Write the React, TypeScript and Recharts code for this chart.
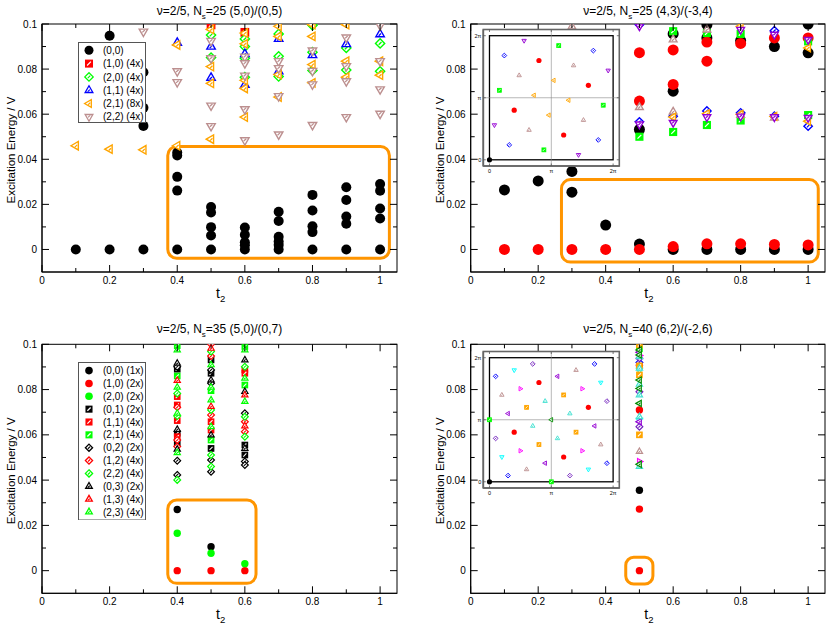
import React from 'react';
import { ScatterChart, Scatter, XAxis, YAxis, ReferenceArea, ReferenceLine, Legend, CartesianGrid, Label } from 'recharts';

type Pt = [number, number];
const FONT = "'Liberation Sans', Arial, Helvetica, sans-serif";

// ---------- axis ticks ----------
const T_TICKS = [0, 0.1, 0.2, 0.3, 0.4, 0.5, 0.6, 0.7, 0.8, 0.9, 1.0];
const E_TICKS = [0, 0.01, 0.02, 0.03, 0.04, 0.05, 0.06, 0.07, 0.08, 0.09, 0.1];
const K_TICKS = [0, 0.5, 1];
const K_LABELS = ['0', 'π', '2π'];

// ---------- colours ----------
const BLACK = '#000000', RED = '#ff0000', GREEN = '#00ff00', BLUE = '#0000ff', ORANGE = '#ffa500';
const BROWN = '#bc8f8f', VIOLET = '#9400d3', CYAN = '#00ffff', MAGENTA = '#ff00ff', INDIGO = '#7221bc';
const TURQ = '#40e0d0', GREEN4 = '#008b00', BOXC = '#ff9500';

// ---------- Panel A: Ns=25 (5,0)/(0,5) ----------
const a00: Pt[] = [[0.1,0],[0.2,0],[0.2,0.0948],[0.3,0],[0.3,0.0548],[0.3,0.0628],[0.3,0.0786],
  [0.4,0],[0.4,0.0261],[0.4,0.0322],[0.4,0.0417],[0.4,0.043],
  [0.5,0],[0.5,0.0062],[0.5,0.0099],[0.5,0.0164],[0.5,0.0188],
  [0.6,0],[0.6,0.0019],[0.6,0.0032],[0.6,0.0065],[0.6,0.0097],
  [0.7,0],[0.7,0.002],[0.7,0.0035],[0.7,0.0056],[0.7,0.0126],[0.7,0.0167],
  [0.8,0],[0.8,0.0077],[0.8,0.0103],[0.8,0.0173],[0.8,0.0242],
  [0.9,0],[0.9,0.0114],[0.9,0.0146],[0.9,0.0219],[0.9,0.0276],
  [1.0,0],[1.0,0.0137],[1.0,0.0182],[1.0,0.026],[1.0,0.029]];
const a10: Pt[] = [[0.5,0.0996],[0.6,0.0963]];
const a20: Pt[] = [[0.5,0.0951],[0.5,0.0851],[0.6,0.0934],[0.6,0.09],[0.6,0.0848],[0.6,0.0764],[0.7,0.0956],[0.7,0.0857],[0.7,0.0767],[0.8,0.0994],[0.8,0.0875],[0.8,0.0794],[0.9,0.0894],[0.9,0.0796],[1.0,0.0914],[1.0,0.079]];
const a11: Pt[] = [[0.4,0.0917],[0.5,0.09],[0.5,0.0762],[0.6,0.0867],[0.6,0.073],[0.7,0.0934],[0.7,0.079],[0.8,0.0862],[0.9,0.0911],[1.0,0.0955]];
const a21: Pt[] = [[0.1,0.046],[0.2,0.0445],[0.3,0.0442],[0.4,0.046],[0.4,0.0907],[0.5,0.0976],[0.5,0.0811],[0.5,0.0737],[0.5,0.0489],[0.6,0.096],[0.6,0.0912],[0.6,0.075],[0.6,0.0714],[0.6,0.0587],[0.7,0.099],[0.7,0.0945],[0.7,0.0776],[0.7,0.0676],[0.8,0.0997],[0.8,0.0945],[0.8,0.082],[0.8,0.0739],[0.9,0.0997],[0.9,0.0835],[0.9,0.0764],[1.0,0.0835],[1.0,0.0773]];
const a22: Pt[] = [[0.3,0.0966],[0.4,0.079],[0.4,0.0742],[0.5,0.0925],[0.5,0.0848],[0.5,0.0638],[0.5,0.0547],[0.6,0.0855],[0.6,0.0826],[0.6,0.0771],[0.6,0.0622],[0.6,0.0484],[0.7,0.0835],[0.7,0.0804],[0.7,0.068],[0.7,0.051],[0.8,0.0882],[0.8,0.0792],[0.8,0.0732],[0.8,0.0552],[0.9,0.094],[0.9,0.0813],[0.9,0.0746],[0.9,0.0587],[1.0,0.0994],[1.0,0.0835],[1.0,0.071],[1.0,0.0602]];

// ---------- Panel B: Ns=25 (4,3)/(-3,4) ----------
const b00: Pt[] = [[0.1,0.0264],[0.2,0.0304],[0.3,0.0254],[0.3,0.0346],[0.4,0.0108],[0.5,0.0024],[0.5,0.0532],[0.6,0],[0.6,0.0702],[0.6,0.0956],[0.7,0],[0.7,0.0938],[0.7,0.0997],[0.8,0],[0.8,0.0926],[0.9,0],[0.9,0.09],[1.0,0],[1.0,0.0872],[1.0,0.1]];
const b10: Pt[] = [[0.1,0],[0.2,0],[0.3,0],[0.4,0],[0.5,0],[0.5,0.0658],[0.5,0.0873],[0.6,0.0013],[0.6,0.0732],[0.6,0.0885],[0.7,0.0025],[0.7,0.0835],[0.7,0.092],[0.8,0.0025],[0.8,0.0914],[0.9,0.0022],[0.9,0.0938],[1.0,0.002],[1.0,0.0938]];
const bGreen: Pt[] = [[0.5,0.05],[0.6,0.0521],[0.6,0.0968],[0.7,0.0552],[0.7,0.096],[0.8,0.0572],[0.8,0.0956],[1.0,0.0596],[1.0,0.0923]];
const bBlue: Pt[] = [[0.5,0.0566],[0.5,0.0997],[0.6,0.0591],[0.7,0.0614],[0.8,0.0606],[0.9,0.0591],[0.9,0.097],[1.0,0.0547]];
const bViolet: Pt[] = [[0.5,0.0555],[0.5,0.099],[0.6,0.0562],[0.7,0.0587],[0.8,0.059],[0.8,0.0975],[0.9,0.0587],[0.9,0.0953],[1.0,0.0584],[1.0,0.093]];
const bBrown: Pt[] = [[0.3,0.0988],[0.5,0.0631],[0.6,0.0611],[0.6,0.0931],[0.7,0.0975],[0.8,0.0596],[0.9,0.0584]];
const bOrange: Pt[] = [[0.6,0.0587],[0.7,0.0602],[0.8,0.0599],[0.8,0.099],[0.9,0.059],[1.0,0.0569],[1.0,0.0894]];

// inset B: momenta (k/2π)
const ib00: Pt[] = [[0,0]];
const ibRed: Pt[] = [[0.4,0.8],[0.8,0.6],[0.2,0.4],[0.6,0.2]];
const ibBlue: Pt[] = [[0.12,0.84],[0.84,0.88],[0.16,0.12],[0.88,0.16]];
const ibGreen: Pt[] = [[0.08,0.56],[0.56,0.92],[0.92,0.44],[0.44,0.08]];
const ibViolet: Pt[] = [[0.28,0.96],[0.96,0.72],[0.04,0.28],[0.72,0.04]];
const ibBrown: Pt[] = [[0.24,0.68],[0.68,0.76],[0.32,0.24],[0.76,0.32]];
const ibOrange: Pt[] = [[0.52,0.64],[0.36,0.52],[0.64,0.48],[0.48,0.36]];

// ---------- Panel C: Ns=35 (5,0)/(0,7) ----------
const c00: Pt[] = [[0.4,0.027],[0.5,0.0106]];
const c10: Pt[] = [[0.4,0],[0.5,0],[0.6,0]];
const c20: Pt[] = [[0.4,0.0165],[0.5,0.0077],[0.6,0.0031]];
const c01: Pt[] = [[0.4,0.089],[0.4,0.0607],[0.4,0.0563],[0.5,0.0931],[0.5,0.0872],[0.5,0.054],[0.6,0.0555],[0.6,0.0511]];
const c11: Pt[] = [[0.4,0.0769],[0.4,0.0732],[0.4,0.0663],[0.4,0.0592],[0.5,0.0658],[0.5,0.0621],[0.6,0.0887],[0.6,0.0872]];
const c21: Pt[] = [[0.4,0.0994],[0.4,0.086],[0.5,0.0795],[0.5,0.0577],[0.6,0.099],[0.6,0.082]];
const c02: Pt[] = [[0.4,0.0901],[0.4,0.0486],[0.4,0.0423],[0.5,0.0887],[0.5,0.0828],[0.5,0.0489],[0.5,0.0437],[0.6,0.0695],[0.6,0.0482],[0.6,0.0467]];
const c12: Pt[] = [[0.4,0.0722],[0.4,0.0577],[0.4,0.0548],[0.5,0.1],[0.5,0.0948],[0.5,0.0688],[0.6,0.0658],[0.6,0.0614]];
const c22: Pt[] = [[0.4,0.0783],[0.4,0.0683],[0.4,0.0401],[0.5,0.0968],[0.5,0.071],[0.5,0.0511],[0.5,0.046],[0.6,0.0901],[0.6,0.068],[0.6,0.0592]];
const c03: Pt[] = [[0.4,0.0916],[0.4,0.0624],[0.4,0.0536],[0.5,0.0842],[0.5,0.0599],[0.6,0.0931],[0.6,0.0791],[0.6,0.054]];
const c13: Pt[] = [[0.4,0.084],[0.5,0.0982],[0.5,0.0725],[0.6,0.0776],[0.6,0.0639]];
const c23: Pt[] = [[0.4,0.0975],[0.4,0.081],[0.4,0.0695],[0.4,0.0521],[0.5,0.0909],[0.5,0.081],[0.5,0.0754],[0.5,0.0636],[0.6,0.0975],[0.6,0.085],[0.6,0.0747]];

// ---------- Panel D: Ns=40 (6,2)/(-2,6) ----------
const d00: Pt[] = [[0.5,0.0355]];
const d10: Pt[] = [[0.5,0],[0.5,0.0272],[0.5,0.0907],[0.5,0.071]];
const dLime: Pt[] = [[0.5,0.098]];
const dBlue: Pt[] = [[0.5,0.092]];
const dIndigo: Pt[] = [[0.5,0.0636],[0.5,0.079],[0.5,0.0938]];
const dCyan: Pt[] = [[0.5,0.0665],[0.5,0.0885]];
const dBrown: Pt[] = [[0.5,0.0526]];
const dMagenta: Pt[] = [[0.5,0.0482],[0.5,0.095]];
const dViolet: Pt[] = [[0.5,0.0658],[0.5,0.0965]];
const dOrange: Pt[] = [[0.5,0.0997],[0.5,0.0865],[0.5,0.06],[0.5,0.0905]];
const dTurq: Pt[] = [[0.5,0.046],[0.5,0.0894],[0.5,0.0823],[0.5,0.0776],[0.5,0.068],[0.5,0.0945]];
const dGreen4: Pt[] = [[0.5,0.047],[0.5,0.0975],[0.5,0.0842],[0.5,0.0805],[0.5,0.0739],[0.5,0.0953]];

// inset D
const id00: Pt[] = [[0,0]];
const idLime: Pt[] = [[0,0.5],[0.5,0]];
const idGreen4: Pt[] = [[0.5,0.5]];
const idRed: Pt[] = [[0.4,0.8],[0.8,0.6],[0.2,0.4],[0.6,0.2]];
const idBlue: Pt[] = [[0.05,0.85],[0.85,0.95],[0.15,0.05],[0.95,0.15]];
const idIndigo: Pt[] = [[0.35,0.95],[0.95,0.65],[0.05,0.35],[0.65,0.05]];
const idCyan: Pt[] = [[0.2,0.9],[0.9,0.8],[0.1,0.2],[0.8,0.1]];
const idBrown: Pt[] = [[0.7,0.9],[0.1,0.7],[0.9,0.3],[0.3,0.1]];
const idMagenta: Pt[] = [[0.25,0.75],[0.75,0.75],[0.25,0.25],[0.75,0.25]];
const idViolet: Pt[] = [[0.55,0.85],[0.15,0.55],[0.85,0.45],[0.45,0.15]];
const idOrange: Pt[] = [[0.6,0.7],[0.3,0.6],[0.7,0.4],[0.4,0.3]];
const idTurq: Pt[] = [[0.45,0.65],[0.65,0.55],[0.35,0.45],[0.55,0.35]];

// ---------- markers ----------
function Marker({ cx, cy, kind, color, r, sw = 1.3 }: any) {
  if (typeof cx !== 'number' || typeof cy !== 'number') return null;
  const hl = (x1: number, y1: number, x2: number, y2: number, c: string) => (
    <line x1={cx + x1 * r} y1={cy + y1 * r} x2={cx + x2 * r} y2={cy + y2 * r} stroke={c} strokeWidth={sw * 0.9} />
  );
  const poly = (pts: number[][]) => pts.map(([x, y]) => `${cx + x * r},${cy + y * r}`).join(' ');
  switch (kind) {
    case 'circle':
      return <circle cx={cx} cy={cy} r={r} fill={color} />;
    case 'square': {
      const s = r * 0.8;
      return (
        <g>
          <rect x={cx - s} y={cy - s} width={2 * s} height={2 * s} fill={color} stroke={color} strokeWidth={sw} />
          {hl(-0.45, 0.45, 0.45, -0.45, '#fff')}
        </g>
      );
    }
    case 'diamond':
      return (
        <g>
          <polygon points={poly([[0, -1], [1, 0], [0, 1], [-1, 0]])} fill="#fff" stroke={color} strokeWidth={sw} />
          {hl(-0.3, 0.3, 0.3, -0.3, color)}
        </g>
      );
    case 'up':
      return (
        <g>
          <polygon points={poly([[0, -1.05], [0.92, 0.55], [-0.92, 0.55]])} fill="#fff" stroke={color} strokeWidth={sw} />
          {hl(-0.3, 0.35, 0.2, -0.15, color)}
        </g>
      );
    case 'down':
      return (
        <g>
          <polygon points={poly([[0, 1.05], [0.92, -0.55], [-0.92, -0.55]])} fill="#fff" stroke={color} strokeWidth={sw} />
          {hl(-0.25, 0.15, 0.3, -0.35, color)}
        </g>
      );
    case 'left':
      return (
        <g>
          <polygon points={poly([[-1.05, 0], [0.55, -0.92], [0.55, 0.92]])} fill="#fff" stroke={color} strokeWidth={sw} />
          {hl(-0.2, 0.3, 0.3, -0.2, color)}
        </g>
      );
    case 'right':
      return (
        <g>
          <polygon points={poly([[1.05, 0], [-0.55, -0.92], [-0.55, 0.92]])} fill="#fff" stroke={color} strokeWidth={sw} />
          {hl(-0.3, 0.2, 0.2, -0.3, color)}
        </g>
      );
    default:
      return null;
  }
}

type Series = { data: Pt[]; kind: string; color: string; label?: string };

const AX = { stroke: '#000', strokeWidth: 1 };
const tLabel = (v: number) => (v === 0 ? '0' : Math.abs(v - 1) < 1e-9 ? '1' : v.toFixed(1));
const eLabel = (v: number) => (v === 0 ? '0' : Math.abs(v - 0.1) < 1e-9 ? '0.1' : v.toFixed(2));
const tMajor = (v: number) => Math.round(v * 10) % 2 === 0;
const eMajor = (v: number) => Math.round(v * 100) % 2 === 0;
const txt = { fontFamily: FONT, fill: '#000' };

// bottom tick also draws the mirrored inward tick on the top edge (plot top = pt)
const makeBottomTick = (pt: number) => (p: any) => {
  const v = p.payload.value;
  const m = tMajor(v);
  const len = m ? 7 : 4;
  return (
    <g>
      <line x1={p.x} x2={p.x} y1={p.y} y2={p.y - len} stroke="#000" />
      <line x1={p.x} x2={p.x} y1={pt} y2={pt + len} stroke="#000" />
      {m && <text x={p.x} y={p.y + 11.5} textAnchor="middle" fontSize={10} {...txt}>{tLabel(v)}</text>}
    </g>
  );
};
// left tick also draws the mirrored inward tick on the right edge (plot right = pr)
const makeLeftTick = (pr: number) => (p: any) => {
  const v = p.payload.value;
  const m = eMajor(v);
  const len = m ? 7 : 4;
  return (
    <g>
      <line x1={p.x} x2={p.x + len} y1={p.y} y2={p.y} stroke="#000" />
      <line x1={pr} x2={pr - len} y1={p.y} y2={p.y} stroke="#000" />
      {m && <text x={p.x - 5} y={p.y} dy="0.35em" textAnchor="end" fontSize={10} {...txt}>{eLabel(v)}</text>}
    </g>
  );
};

const makeXLabels = (ns: string, tail: string, titleY: number) => (p: any) => {
  const vb = p.viewBox || { x: 0, y: 0, width: 0, height: 0 };
  const cx = vb.x + vb.width / 2;
  return (
    <g>
      <text x={cx - 3.5} y={vb.y + 25.5} fontSize={14} {...txt}>
        t<tspan fontSize={9.5} dy={4.5}>2</tspan>
      </text>
      <text x={cx} y={titleY} textAnchor="middle" fontSize={12} {...txt}>
        ν=2/5, N<tspan fontSize={8} dy={3.5}>s</tspan>
        <tspan dy={-3.5}>={ns} {tail}</tspan>
      </text>
    </g>
  );
};
const yTitle = (p: any) => {
  const vb = p.viewBox || { x: 0, y: 0, width: 0, height: 0 };
  const x = vb.x + vb.width - 27;
  const y = vb.y + vb.height / 2 + 2;
  return (
    <text x={x} y={y} transform={`rotate(-90 ${x} ${y})`} textAnchor="middle" fontSize={11.5} {...txt}>
      Excitation Energy / V
    </text>
  );
};

function LegendBox({ items, w, h, y0, dy, r, rc }: any) {
  return (
    <svg width={w} height={h} style={{ display: 'block' }}>
      <rect x={0.5} y={0.5} width={w - 1} height={h - 1} fill="#fff" stroke="#555" strokeWidth={1} />
      {items.map((it: Series, i: number) => (
        <g key={i}>
          <Marker cx={11} cy={y0 + i * dy} kind={it.kind} color={it.color} r={it.kind === 'circle' ? rc : r} sw={1.3} />
          <text x={25} y={y0 + i * dy} dy="0.36em" fontSize={10} {...txt}>{it.label}</text>
        </g>
      ))}
    </svg>
  );
}

type PanelDef = {
  left: number; top: number; W: number; H: number;
  pl: number; pt: number; pr: number; pb: number;
  ns: string; tail: string; titleY: number;
  series: Series[]; r: number; rc: number; sw: number;
  box: { x1: number; x2: number; y1: number; y2: number; rx: number };
  legend?: { x: number; y: number; w: number; h: number; y0: number; dy: number; r: number; rc: number };
};

function Panel(d: PanelDef) {
  const { left, top, W, H, pl, pt, pr, pb, series, box, legend } = d;
  const RoundBox = (p: any) => (
    <rect x={p.x} y={p.y} width={p.width} height={p.height} rx={box.rx} ry={box.rx} fill="none" stroke={BOXC} strokeWidth={3} />
  );
  const Frame = (p: any) => <rect x={p.x} y={p.y} width={p.width} height={p.height} fill="none" stroke="#000" strokeWidth={1} />;
  return (
    <div style={{ position: 'absolute', left, top, width: W, height: H }}>
      <ScatterChart width={W} height={H} margin={{ top: pt, right: W - pr, left: 0, bottom: 0 }}>
        <XAxis type="number" dataKey="t" domain={[0, 1.05]} ticks={T_TICKS} interval={0} allowDataOverflow
          height={H - pb} tickSize={0} tickMargin={0} tickLine={false} axisLine={AX} tick={makeBottomTick(pt)}
          label={<Label content={makeXLabels(d.ns, d.tail, d.titleY)} />} />
        <YAxis type="number" dataKey="e" domain={[-0.01, 0.1]} ticks={E_TICKS} interval={0} allowDataOverflow
          width={pl} tickSize={0} tickMargin={0} tickLine={false} axisLine={AX} tick={makeLeftTick(pr)}
          label={<Label content={yTitle} />} />
        <ReferenceArea x1={0} x2={1.05} y1={-0.01} y2={0.1} ifOverflow="visible" shape={Frame} />
        <ReferenceArea x1={box.x1} x2={box.x2} y1={box.y1} y2={box.y2} ifOverflow="visible" shape={RoundBox} />
        {series.map((s, i) => (
          <Scatter key={i} data={s.data.map(([t, e]) => ({ t, e }))} isAnimationActive={false}
            shape={(p: any) => <Marker cx={p.cx} cy={p.cy} kind={s.kind} color={s.color} r={s.kind === 'circle' ? d.rc : d.r} sw={d.sw} />} />
        ))}
        {legend && (
          <Legend layout="vertical" align="center" verticalAlign="middle"
            wrapperStyle={{ left: legend.x, top: legend.y, width: legend.w, height: legend.h }}
            content={() => <LegendBox items={series} w={legend.w} h={legend.h} y0={legend.y0} dy={legend.dy} r={legend.r} rc={legend.rc} />} />
        )}
      </ScatterChart>
    </div>
  );
}

// inset ticks (bottom/left also draw mirrored top/right ticks)
const makeIBottomTick = (pt: number) => (p: any) => {
  const i = K_TICKS.indexOf(p.payload.value);
  return (
    <g>
      <line x1={p.x} x2={p.x} y1={p.y} y2={p.y - 2.5} stroke="#555" strokeWidth={0.8} />
      <line x1={p.x} x2={p.x} y1={pt} y2={pt + 2.5} stroke="#555" strokeWidth={0.8} />
      <text x={p.x} y={p.y + 6.5} textAnchor="middle" fontSize={5.5} {...txt}>{K_LABELS[i]}</text>
    </g>
  );
};
const makeILeftTick = (pr: number) => (p: any) => {
  const i = K_TICKS.indexOf(p.payload.value);
  return (
    <g>
      <line x1={p.x} x2={p.x + 2.5} y1={p.y} y2={p.y} stroke="#555" strokeWidth={0.8} />
      <line x1={pr} x2={pr - 2.5} y1={p.y} y2={p.y} stroke="#555" strokeWidth={0.8} />
      <text x={p.x - 2} y={p.y} dy="0.35em" textAnchor="end" fontSize={5.5} {...txt}>{K_LABELS[i]}</text>
    </g>
  );
};
const IAX = { stroke: '#666', strokeWidth: 1.6 };

function Inset({ left, top, series }: { left: number; top: number; series: Series[] }) {
  const W = 156, H = 152, pl = 15.3, pt = 5.5, pr = 4.7, pb = 10;
  const Frame = (p: any) => <rect x={p.x} y={p.y} width={p.width} height={p.height} fill="none" stroke="#000" strokeWidth={1.3} />;
  const Outer = (p: any) => <rect x={p.x} y={p.y} width={p.width} height={p.height} fill="none" stroke="#666" strokeWidth={1.6} />;
  return (
    <div style={{ position: 'absolute', left, top, width: W, height: H }}>
      <ScatterChart width={W} height={H} margin={{ top: pt, right: pr, left: 0, bottom: 0 }}>
        <CartesianGrid horizontal={false} vertical={false} fill="#fff" />
        <XAxis type="number" dataKey="kx" domain={[-0.05, 1.05]} ticks={K_TICKS} interval={0} allowDataOverflow
          height={pb} tickSize={0} tickMargin={0} tickLine={false} axisLine={IAX} tick={makeIBottomTick(pt)} />
        <YAxis type="number" dataKey="ky" domain={[-0.05, 1.05]} ticks={K_TICKS} interval={0} allowDataOverflow
          width={pl} tickSize={0} tickMargin={0} tickLine={false} axisLine={IAX} tick={makeILeftTick(W - pr)} />
        <ReferenceArea x1={-0.05} x2={1.05} y1={-0.05} y2={1.05} ifOverflow="visible" shape={Outer} />
        <ReferenceLine x={0.5} stroke="#888" strokeWidth={0.6} />
        <ReferenceLine y={0.5} stroke="#888" strokeWidth={0.6} />
        <ReferenceArea x1={0} x2={1} y1={0} y2={1} ifOverflow="visible" shape={Frame} />
        {series.map((s, i) => (
          <Scatter key={i} data={s.data.map(([kx, ky]) => ({ kx, ky }))} isAnimationActive={false}
            shape={(p: any) => <Marker cx={p.cx} cy={p.cy} kind={s.kind} color={s.color} r={s.kind === 'circle' ? 2.6 : 2.4} sw={0.9} />} />
        ))}
      </ScatterChart>
    </div>
  );
}

const SERIES_A: Series[] = [
  { data: a00, kind: 'circle', color: BLACK, label: '(0,0)' },
  { data: a10, kind: 'square', color: RED, label: '(1,0) (4x)' },
  { data: a20, kind: 'diamond', color: GREEN, label: '(2,0) (4x)' },
  { data: a11, kind: 'up', color: BLUE, label: '(1,1) (4x)' },
  { data: a21, kind: 'left', color: ORANGE, label: '(2,1) (8x)' },
  { data: a22, kind: 'down', color: BROWN, label: '(2,2) (4x)' },
];
const SERIES_B: Series[] = [
  { data: b00, kind: 'circle', color: BLACK },
  { data: b10, kind: 'circle', color: RED },
  { data: bGreen, kind: 'square', color: GREEN },
  { data: bBlue, kind: 'diamond', color: BLUE },
  { data: bBrown, kind: 'up', color: BROWN },
  { data: bOrange, kind: 'left', color: ORANGE },
  { data: bViolet, kind: 'down', color: VIOLET },
];
const INSET_B: Series[] = [
  { data: ib00, kind: 'circle', color: BLACK },
  { data: ibRed, kind: 'circle', color: RED },
  { data: ibGreen, kind: 'square', color: GREEN },
  { data: ibBlue, kind: 'diamond', color: BLUE },
  { data: ibBrown, kind: 'up', color: BROWN },
  { data: ibOrange, kind: 'left', color: ORANGE },
  { data: ibViolet, kind: 'down', color: VIOLET },
];
const SERIES_C: Series[] = [
  { data: c00, kind: 'circle', color: BLACK, label: '(0,0) (1x)' },
  { data: c10, kind: 'circle', color: RED, label: '(1,0) (2x)' },
  { data: c20, kind: 'circle', color: GREEN, label: '(2,0) (2x)' },
  { data: c01, kind: 'square', color: BLACK, label: '(0,1) (2x)' },
  { data: c11, kind: 'square', color: RED, label: '(1,1) (4x)' },
  { data: c21, kind: 'square', color: GREEN, label: '(2,1) (4x)' },
  { data: c02, kind: 'diamond', color: BLACK, label: '(0,2) (2x)' },
  { data: c12, kind: 'diamond', color: RED, label: '(1,2) (4x)' },
  { data: c22, kind: 'diamond', color: GREEN, label: '(2,2) (4x)' },
  { data: c03, kind: 'up', color: BLACK, label: '(0,3) (2x)' },
  { data: c13, kind: 'up', color: RED, label: '(1,3) (4x)' },
  { data: c23, kind: 'up', color: GREEN, label: '(2,3) (4x)' },
];
const SERIES_D: Series[] = [
  { data: d00, kind: 'circle', color: BLACK },
  { data: d10, kind: 'circle', color: RED },
  { data: dLime, kind: 'square', color: GREEN },
  { data: dBlue, kind: 'diamond', color: BLUE },
  { data: dIndigo, kind: 'diamond', color: INDIGO },
  { data: dCyan, kind: 'down', color: CYAN },
  { data: dBrown, kind: 'up', color: BROWN },
  { data: dMagenta, kind: 'right', color: MAGENTA },
  { data: dViolet, kind: 'left', color: VIOLET },
  { data: dOrange, kind: 'square', color: ORANGE },
  { data: dTurq, kind: 'up', color: TURQ },
  { data: dGreen4, kind: 'left', color: GREEN4 },
];
const INSET_D: Series[] = [
  { data: id00, kind: 'circle', color: BLACK },
  { data: idRed, kind: 'circle', color: RED },
  { data: idLime, kind: 'square', color: GREEN },
  { data: idBlue, kind: 'diamond', color: BLUE },
  { data: idIndigo, kind: 'diamond', color: INDIGO },
  { data: idCyan, kind: 'down', color: CYAN },
  { data: idBrown, kind: 'up', color: BROWN },
  { data: idMagenta, kind: 'right', color: MAGENTA },
  { data: idViolet, kind: 'left', color: VIOLET },
  { data: idOrange, kind: 'square', color: ORANGE },
  { data: idTurq, kind: 'up', color: TURQ },
  { data: idGreen4, kind: 'left', color: GREEN4 },
];

export default function App() {
  return (
    <div style={{ position: 'absolute', left: 0, top: 0, width: 830, height: 628, background: '#fff', fontFamily: FONT }}>
      <style>{'.recharts-surface { overflow: visible; }'}</style>
      <Panel left={0} top={0} W={415} H={300} pl={42} pt={24} pr={397} pb={272}
        ns="25" tail="(5,0)/(0,5)" titleY={15} series={SERIES_A} r={4.6} rc={5} sw={1.4}
        box={{ x1: 0.372, x2: 1.0275, y1: -0.0039, y2: 0.0457, rx: 9 }}
        legend={{ x: 78.3, y: 41.7, w: 68, h: 81, y0: 8.3, dy: 13.3, r: 4.2, rc: 4.5 }} />
      <Panel left={415} top={0} W={415} H={300} pl={55.7} pt={24} pr={410} pb={272}
        ns="25" tail="(4,3)/(-3,4)" titleY={15} series={SERIES_B} r={4.2} rc={5.5} sw={1.4}
        box={{ x1: 0.269, x2: 1.03, y1: -0.0056, y2: 0.031, rx: 9 }} />
      <Panel left={0} top={300} W={415} H={328} pl={42} pt={44.3} pr={397} pb={293.3}
        ns="35" tail="(5,0)/(0,7)" titleY={33.3} series={SERIES_C} r={3.4} rc={3.7} sw={1.2}
        box={{ x1: 0.372, x2: 0.633, y1: -0.0056, y2: 0.0312, rx: 9 }}
        legend={{ x: 78.3, y: 61.7, w: 68, h: 158.5, y0: 8.6, dy: 12.85, r: 3.6, rc: 3.8 }} />
      <Panel left={415} top={300} W={415} H={328} pl={55.7} pt={44.3} pr={410} pb={293.3}
        ns="40" tail="(6,2)/(-2,6)" titleY={33.3} series={SERIES_D} r={3.4} rc={3.7} sw={1.2}
        box={{ x1: 0.4595, x2: 0.54, y1: -0.0059, y2: 0.0059, rx: 8 }} />
      <Inset left={468} top={24} series={INSET_B} />
      <Inset left={468} top={346} series={INSET_D} />
    </div>
  );
}
